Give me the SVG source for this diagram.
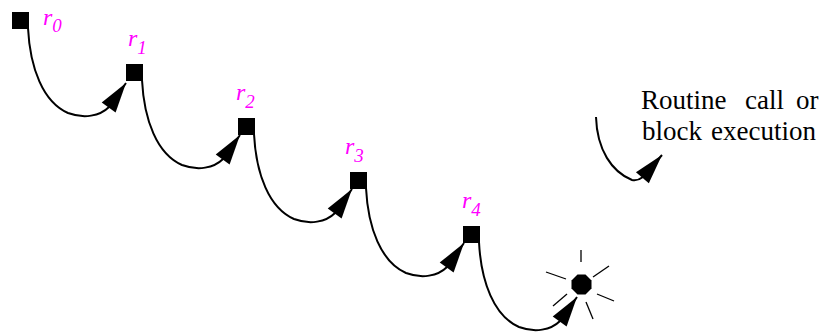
<svg xmlns="http://www.w3.org/2000/svg" width="827" height="333" viewBox="0 0 827 333">
<style>
.sq{fill:#000}
.lbl{font-style:italic;fill:#ff00ff;font-size:24px}
.sub{font-size:19px}
.conn{fill:none;stroke:#000;stroke-width:2}
.txt{font-size:27px;fill:#000}
.ray{stroke:#000;stroke-width:1.3}
</style>
<defs>
<marker id="ah" markerUnits="userSpaceOnUse" viewBox="-32 -12 34 24" refX="0" refY="0" markerWidth="34" markerHeight="24" orient="auto">
<path d="M0,0 L-30,-8.5 L-30,8.5 Z" fill="#000"/>
</marker>
</defs>
<rect width="827" height="333" fill="#fff"/>
<g id="connectors">
<path class="conn" marker-end="url(#ah)" d="M28,28 C30,68 43,102 68,113 C84,119 100,116 109,107 L126,83"/>
<path class="conn" marker-end="url(#ah)" d="M142,80 C144,120 157,154 182,165 C198,171 214,168 223,159 L240,135"/>
<path class="conn" marker-end="url(#ah)" d="M254,134 C256,174 269,208 294,219 C310,225 326,222 335,213 L352,189"/>
<path class="conn" marker-end="url(#ah)" d="M366,188 C368,228 381,262 406,273 C422,279 438,276 447,267 L464,243"/>
<path class="conn" marker-end="url(#ah)" d="M479,242 C481,282 494,316 519,327 C535,333 551,330 560,321 L577,297"/>
<path class="conn" marker-end="url(#ah)" d="M596,117 C597,150 612,172 632,180 C636,181 639,180 643,177 L662,155"/>
</g>
<g id="r0"><rect class="sq" x="12" y="12" width="17" height="17"/><text class="lbl" font-family="'Liberation Serif', serif" x="43" y="25">r<tspan class="sub" dy="7">0</tspan></text></g>
<g id="r1"><rect class="sq" x="126" y="64" width="17" height="17"/><text class="lbl" font-family="'Liberation Serif', serif" x="128" y="46">r<tspan class="sub" dy="8">1</tspan></text></g>
<g id="r2"><rect class="sq" x="238" y="118" width="17" height="17"/><text class="lbl" font-family="'Liberation Serif', serif" x="236" y="100">r<tspan class="sub" dy="8">2</tspan></text></g>
<g id="r3"><rect class="sq" x="350" y="172" width="17" height="17"/><text class="lbl" font-family="'Liberation Serif', serif" x="345" y="154">r<tspan class="sub" dy="8">3</tspan></text></g>
<g id="r4"><rect class="sq" x="463" y="226" width="17" height="17"/><text class="lbl" font-family="'Liberation Serif', serif" x="462" y="208">r<tspan class="sub" dy="8">4</tspan></text></g>
<g id="end">
<polygon points="585.5,274.5 591.5,280.5 591.5,288.5 585.5,294.5 577.5,294.5 571.5,288.5 571.5,280.5 577.5,274.5" fill="#000"/>
<line class="ray" x1="581" y1="250" x2="581" y2="262"/>
<line class="ray" x1="593" y1="277" x2="609" y2="266"/>
<line class="ray" x1="597" y1="294" x2="614" y2="301"/>
<line class="ray" x1="586" y1="302" x2="593" y2="319"/>
<line class="ray" x1="546" y1="272" x2="566" y2="279"/>
<line class="ray" x1="553" y1="306" x2="567" y2="294"/>
</g>
<g id="legend">
<text class="txt" font-family="'Liberation Serif', serif" y="109"><tspan x="641">Routine</tspan><tspan x="745">call</tspan><tspan x="796">or</tspan></text>
<text class="txt" font-family="'Liberation Serif', serif" y="140"><tspan x="642">block</tspan><tspan x="711">execution</tspan></text>
</g>
</svg>
